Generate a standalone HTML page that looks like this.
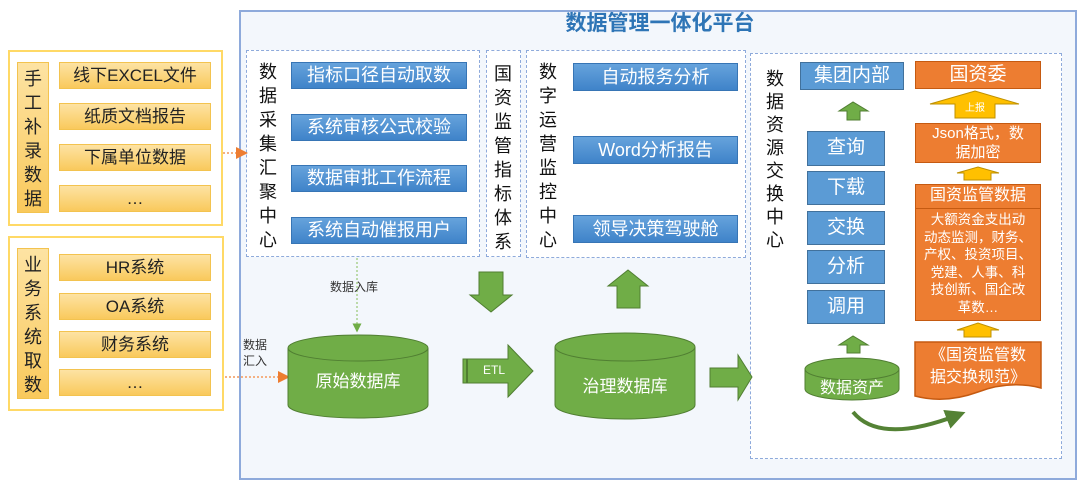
<!DOCTYPE html>
<html><head><meta charset="utf-8"><style>
*{margin:0;padding:0;box-sizing:border-box}
body{width:1080px;height:499px;background:#fff;position:relative;overflow:hidden;font-family:"Liberation Sans","Noto Sans CJK SC",sans-serif}
.a{position:absolute}
.y{position:absolute;background:linear-gradient(#fde3a3,#f9c95c);border:1px solid #f3c34f;color:#222;font-size:17px;text-align:center;line-height:25px}
.b{position:absolute;background:linear-gradient(#66a3dc,#3f83c9);border:1px solid #3775b5;color:#fff;font-size:18px;text-align:center}
.bb{position:absolute;background:#5b9bd5;border:1.5px solid #41719c;color:#fff;font-size:19px;text-align:center}
.o{position:absolute;background:#ed7d31;border:1.5px solid #c55a11;color:#fff;text-align:center}
.d{position:absolute;border:1.5px dashed #8eaadb}
.v{position:absolute;font-size:18px;line-height:24px;color:#111;width:20px;text-align:center}
</style></head><body>
<div class="a" style="left:239px;top:10px;width:838px;height:470px;background:#f3f7fc;border:2px solid #8eaadb"></div>
<div class="a" style="left:239px;top:9px;width:842px;text-align:center;font-size:21px;font-weight:bold;color:#2e75b6;line-height:30px">数据管理一体化平台</div>

<!-- left boxes -->
<div class="a" style="left:8px;top:50px;width:215px;height:176px;border:2px solid #ffd966;background:#fff"></div>
<div class="y" style="left:17px;top:62px;width:32px;height:151px;font-size:18px;line-height:24px;padding-top:4px">手<br>工<br>补<br>录<br>数<br>据</div>
<div class="y" style="left:59px;top:62px;width:152px;height:27px">线下EXCEL文件</div>
<div class="y" style="left:59px;top:103px;width:152px;height:27px">纸质文档报告</div>
<div class="y" style="left:59px;top:144px;width:152px;height:27px">下属单位数据</div>
<div class="y" style="left:59px;top:185px;width:152px;height:27px">…</div>

<div class="a" style="left:8px;top:236px;width:216px;height:175px;border:2px solid #ffd966;background:#fff"></div>
<div class="y" style="left:17px;top:248px;width:32px;height:151px;font-size:18px;line-height:24px;padding-top:4px">业<br>务<br>系<br>统<br>取<br>数</div>
<div class="y" style="left:59px;top:254px;width:152px;height:27px">HR系统</div>
<div class="y" style="left:59px;top:293px;width:152px;height:27px">OA系统</div>
<div class="y" style="left:59px;top:331px;width:152px;height:27px">财务系统</div>
<div class="y" style="left:59px;top:369px;width:152px;height:27px">…</div>

<!-- collection -->
<div class="d" style="left:246px;top:50px;width:234px;height:207px;background:#fff"></div>
<div class="v" style="left:258px;top:60px">数<br>据<br>采<br>集<br>汇<br>聚<br>中<br>心</div>
<div class="b" style="left:291px;top:62px;width:176px;height:27px;line-height:25px">指标口径自动取数</div>
<div class="b" style="left:291px;top:114px;width:176px;height:27px;line-height:25px">系统审核公式校验</div>
<div class="b" style="left:291px;top:165px;width:176px;height:27px;line-height:25px">数据审批工作流程</div>
<div class="b" style="left:291px;top:217px;width:176px;height:27px;line-height:25px">系统自动催报用户</div>

<div class="d" style="left:486px;top:50px;width:35px;height:207px;background:#fff"></div>
<div class="v" style="left:493px;top:62px">国<br>资<br>监<br>管<br>指<br>标<br>体<br>系</div>

<div class="d" style="left:526px;top:50px;width:220px;height:208px;background:#fff"></div>
<div class="v" style="left:538px;top:60px">数<br>字<br>运<br>营<br>监<br>控<br>中<br>心</div>
<div class="b" style="left:573px;top:63px;width:165px;height:28px;line-height:26px">自动报务分析</div>
<div class="b" style="left:573px;top:136px;width:165px;height:28px;line-height:26px">Word分析报告</div>
<div class="b" style="left:573px;top:215px;width:165px;height:28px;line-height:26px">领导决策驾驶舱</div>

<!-- exchange -->
<div class="d" style="left:750px;top:53px;width:312px;height:406px;background:#fff"></div>
<div class="v" style="left:765px;top:68px;line-height:23px">数<br>据<br>资<br>源<br>交<br>换<br>中<br>心</div>
<div class="bb" style="left:800px;top:62px;width:104px;height:28px;line-height:25px">集团内部</div>
<div class="bb" style="left:807px;top:131px;width:78px;height:35px;line-height:32px">查询</div>
<div class="bb" style="left:807px;top:171px;width:78px;height:34px;line-height:31px">下载</div>
<div class="bb" style="left:807px;top:211px;width:78px;height:34px;line-height:31px">交换</div>
<div class="bb" style="left:807px;top:250px;width:78px;height:34px;line-height:31px">分析</div>
<div class="bb" style="left:807px;top:290px;width:78px;height:34px;line-height:31px">调用</div>

<div class="o" style="left:915px;top:61px;width:126px;height:28px;font-size:19px;line-height:25px">国资委</div>
<div class="o" style="left:915px;top:123px;width:126px;height:40px;font-size:15px;line-height:19px">Json格式，数<br>据加密</div>
<div class="o" style="left:915px;top:184px;width:126px;height:25px;font-size:16px;line-height:22px">国资监管数据</div>
<div class="o" style="left:915px;top:208px;width:126px;height:113px;font-size:13.5px;line-height:17.5px;padding-top:2px">大额资金支出动<br>动态监测，财务、<br>产权、投资项目、<br>党建、人事、科<br>技创新、国企改<br>革数…</div>

<svg class="a" style="left:0;top:0" width="1080" height="499">
<defs><marker id="ao" markerWidth="6" markerHeight="6" refX="5" refY="3" orient="auto"><path d="M0,0L6,3L0,6z" fill="#ed7d31"/></marker>
<marker id="ag" markerWidth="6" markerHeight="6" refX="5" refY="3" orient="auto"><path d="M0,0L6,3L0,6z" fill="#70ad47"/></marker>
<marker id="ac" markerWidth="5" markerHeight="5" refX="3" refY="2.5" orient="auto"><path d="M0,0L5,2.5L0,5z" fill="#548235"/></marker></defs>
<line x1="223" y1="153" x2="246" y2="153" stroke="#f4b183" stroke-width="2" stroke-dasharray="2,2" marker-end="url(#ao)"/>
<line x1="225" y1="377" x2="288" y2="377" stroke="#f4b183" stroke-width="2" stroke-dasharray="2,2" marker-end="url(#ao)"/>
<line x1="357" y1="258" x2="357" y2="331" stroke="#a9d18e" stroke-width="1.5" stroke-dasharray="2,2" marker-end="url(#ag)"/>
<g fill="#70ad47" stroke="#507e32" stroke-width="1">
<path d="M288,348 V405 A70,13 0 0 0 428,405 V348"/><ellipse cx="358" cy="348" rx="70" ry="13"/>
<path d="M555,347 V405 A70,14 0 0 0 695,405 V347"/><ellipse cx="625" cy="347" rx="70" ry="14"/>
<path d="M805,369 V389 A47,11 0 0 0 899,389 V369"/><ellipse cx="852" cy="369" rx="47" ry="11"/>
<path d="M463,359 H508 V345 L533,371 L508,397 V383 H463z"/>
<path d="M479,272 H503 V295 H512 L491,312 L470,295 H479z"/>
<path d="M617,308 H640 V286 H648 L628,270 L608,286 H617z"/>
<path d="M710,368 H738 V355 L752,377 L738,400 V387 H710z"/>
<path d="M847,120 H860 V111 H868 L853,102 L839,111 H847z"/>
<path d="M847,353 H860 V345 H868 L853,336 L839,345 H847z"/>
</g>
<line x1="467" y1="359" x2="467" y2="383" stroke="#507e32" stroke-width="2"/>
<g fill="#ffc000" stroke="#bf9000" stroke-width="1">
<path d="M955,118 H995 V104 H1019 L975,91 L930,104 H955z"/>
<path d="M964,180 H991 V173 H999 L978,167 L957,173 H964z"/>
<path d="M964,337 H991 V330 H999 L978,323 L957,330 H964z"/>
</g>
<text x="975" y="111" font-size="10" fill="#fff" text-anchor="middle" font-family="Noto Sans CJK SC">上报</text>
<path d="M915,342 H1041 V388 Q1010,380 978,392 Q945,404 915,396z" fill="#ed7d31" stroke="#c55a11" stroke-width="1.5"/>
<path d="M853,412 Q880,445 958,415" fill="none" stroke="#548235" stroke-width="4" marker-end="url(#ac)"/>
</svg>
<div class="a" style="left:288px;top:367px;width:140px;text-align:center;color:#fff;font-size:17px">原始数据库</div>
<div class="a" style="left:555px;top:372px;width:140px;text-align:center;color:#fff;font-size:17px">治理数据库</div>
<div class="a" style="left:805px;top:374px;width:94px;text-align:center;color:#fff;font-size:16px">数据资产</div>
<div class="a" style="left:483px;top:363px;color:#fff;font-size:12px">ETL</div>
<div class="a" style="left:915px;top:345px;width:126px;text-align:center;color:#fff;font-size:16px;line-height:22px">《国资监管数<br>据交换规范》</div>
<div class="a" style="left:330px;top:278px;font-size:12px;color:#333">数据入库</div>
<div class="a" style="left:243px;top:337px;font-size:12px;color:#333;line-height:16px">数据<br>汇入</div>
</body></html>
